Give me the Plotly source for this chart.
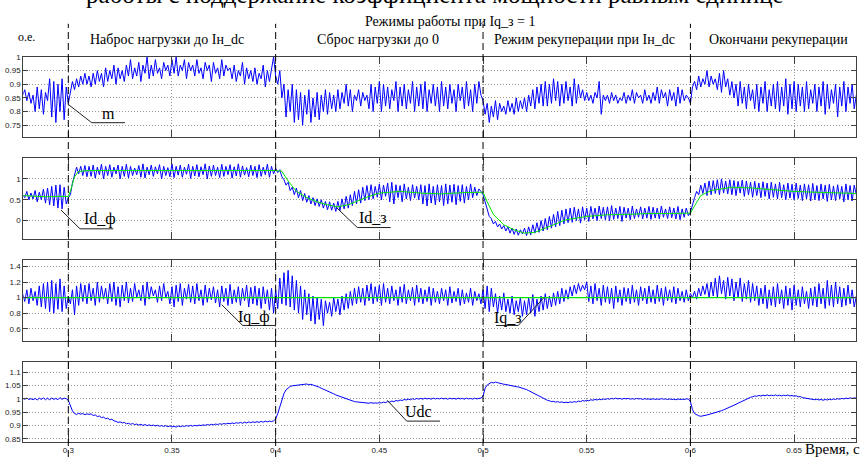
import plotly.graph_objects as go

# ---------------- DATA ----------------
T_START = 0.278
T_STEP = 0.001

m_vals = [
    0.86, 0.88, 0.84, 0.87, 0.83, 0.86, 0.80, 0.89, 0.81, 0.88, 0.79, 0.87,
    0.84, 0.92, 0.78, 0.91, 0.76, 0.90, 0.80, 0.92, 0.77, 0.89,
    0.83, 0.87, 0.91, 0.88, 0.92, 0.89, 0.93, 0.90, 0.94, 0.90,
    0.93, 0.89, 0.94, 0.90, 0.95, 0.91, 0.94, 0.89, 0.96, 0.91,
    0.95, 0.92, 0.97, 0.90, 0.96, 0.92, 0.95, 0.91, 0.97, 0.93,
    0.99, 0.92, 0.96, 0.93, 0.98, 0.91, 0.97, 0.94, 1.00, 0.92,
    0.97, 0.93, 0.99, 0.94, 0.96, 0.92, 0.98, 0.95, 0.97, 0.93,
    0.99, 0.94, 1.00, 0.93, 0.97, 0.95, 0.99, 0.92, 0.98, 0.95,
    0.97, 0.93, 0.99, 0.94, 0.96, 0.92, 0.98, 0.95, 0.97, 0.91,
    0.98, 0.94, 0.96, 0.92, 0.99, 0.93, 0.97, 0.95, 0.96, 0.92,
    0.97, 0.91, 0.95, 0.93, 0.98, 0.90, 0.96, 0.92, 0.95, 0.91,
    0.96, 0.90, 0.94, 0.92, 0.97, 0.89, 0.95, 0.91, 0.96, 1.00,
    0.93, 0.90, 0.95, 0.85, 0.90, 0.78, 0.88, 0.80, 0.90, 0.76,
    0.88, 0.77, 0.87, 0.75, 0.86, 0.79, 0.88, 0.76, 0.85, 0.78,
    0.87, 0.77, 0.86, 0.80, 0.88, 0.79, 0.87, 0.81, 0.86, 0.80,
    0.88, 0.81, 0.87, 0.83, 0.90, 0.82, 0.88, 0.80, 0.86, 0.84,
    0.88, 0.82, 0.87, 0.84, 0.86, 0.81, 0.90, 0.80, 0.89, 0.83,
    0.91, 0.80, 0.90, 0.82, 0.89, 0.81, 0.88, 0.84, 0.91, 0.80,
    0.89, 0.82, 0.90, 0.81, 0.88, 0.83, 0.91, 0.80, 0.89, 0.82,
    0.90, 0.81, 0.91, 0.80, 0.88, 0.83, 0.90, 0.82, 0.89, 0.80,
    0.91, 0.82, 0.89, 0.81, 0.90, 0.83, 0.88, 0.80, 0.90, 0.84,
    0.89, 0.81, 0.91, 0.82, 0.88, 0.80, 0.90, 0.83, 0.91, 0.86,
    0.84, 0.79, 0.83, 0.76, 0.82, 0.78, 0.84, 0.77, 0.83, 0.80,
    0.82, 0.79, 0.84, 0.80, 0.83, 0.79, 0.85, 0.80, 0.84, 0.81,
    0.85, 0.80, 0.86, 0.82, 0.88, 0.81, 0.89, 0.83, 0.90, 0.82,
    0.91, 0.82, 0.90, 0.83, 0.92, 0.84, 0.91, 0.82, 0.90, 0.83,
    0.91, 0.84, 0.89, 0.82, 0.92, 0.83, 0.90, 0.85, 0.88, 0.84,
    0.87, 0.84, 0.86, 0.83, 0.87, 0.85, 0.91, 0.79, 0.86, 0.84,
    0.86, 0.83, 0.87, 0.84, 0.86, 0.83, 0.85, 0.84, 0.87, 0.83,
    0.86, 0.84, 0.88, 0.83, 0.87, 0.85, 0.86, 0.83, 0.88, 0.84,
    0.86, 0.83, 0.87, 0.84, 0.89, 0.83, 0.88, 0.85, 0.87, 0.82,
    0.88, 0.84, 0.87, 0.82, 0.89, 0.83, 0.88, 0.84, 0.86, 0.85,
    0.83, 0.89, 0.91, 0.88, 0.93, 0.89, 0.92, 0.90, 0.95, 0.89,
    0.93, 0.90, 0.92, 0.88, 0.94, 0.87, 0.95, 0.89, 0.92, 0.86,
    0.91, 0.85, 0.90, 0.82, 0.91, 0.83, 0.89, 0.81, 0.90, 0.84,
    0.88, 0.81, 0.90, 0.80, 0.89, 0.83, 0.91, 0.80, 0.88, 0.82,
    0.90, 0.81, 0.91, 0.80, 0.89, 0.82, 0.92, 0.79, 0.90, 0.81,
    0.91, 0.80, 0.90, 0.82, 0.89, 0.80, 0.91, 0.81, 0.88, 0.83,
    0.90, 0.80, 0.89, 0.82, 0.91, 0.79, 0.90, 0.81, 0.88, 0.83,
    0.90, 0.78, 0.89, 0.82, 0.91, 0.80, 0.89, 0.83, 0.90, 0.81, 0.86,
]

id_vals = [
    0.62, 0.55, 0.70, 0.50, 0.66, 0.52, 0.72, 0.45, 0.68, 0.50, 0.75, 0.42,
    0.78, 0.38, 0.82, 0.35, 0.85, 0.30, 0.86, 0.28, 0.80, 0.40,
    0.55, 0.62, 0.90, 1.10, 1.28, 1.12, 1.30, 1.08, 1.32, 1.05,
    1.30, 1.06, 1.33, 1.02, 1.28, 1.10, 1.35, 1.00, 1.30, 1.08,
    1.34, 1.04, 1.28, 1.12, 1.33, 1.00, 1.30, 1.06, 1.35, 1.02,
    1.30, 1.08, 1.26, 1.10, 1.32, 1.04, 1.36, 1.02, 1.28, 1.10,
    1.33, 1.06, 1.29, 1.12, 1.34, 1.00, 1.30, 1.08, 1.27, 1.05,
    1.36, 1.03, 1.30, 1.09, 1.33, 1.04, 1.28, 1.11, 1.35, 1.01,
    1.30, 1.07, 1.34, 1.05, 1.29, 1.10, 1.36, 1.00, 1.31, 1.06,
    1.33, 1.08, 1.28, 1.03, 1.35, 1.06, 1.30, 1.10, 1.34, 1.02,
    1.29, 1.07, 1.36, 1.04, 1.31, 1.09, 1.27, 1.05, 1.33, 1.08,
    1.30, 1.03, 1.34, 1.06, 1.28, 1.10, 1.35, 1.04, 1.30, 1.12,
    1.25, 1.15, 1.22, 1.05, 0.98, 0.85, 0.92, 0.72, 0.80, 0.62,
    0.78, 0.55, 0.72, 0.48, 0.65, 0.44, 0.60, 0.40, 0.55, 0.36,
    0.52, 0.34, 0.50, 0.30, 0.46, 0.26, 0.45, 0.25, 0.42, 0.22,
    0.46, 0.24, 0.52, 0.28, 0.58, 0.30, 0.62, 0.36, 0.70, 0.40,
    0.74, 0.42, 0.80, 0.48, 0.84, 0.50, 0.86, 0.52, 0.82, 0.56,
    0.88, 0.50, 0.85, 0.58, 0.90, 0.45, 0.92, 0.40, 0.86, 0.55,
    0.84, 0.45, 0.88, 0.52, 0.80, 0.48, 0.86, 0.54, 0.82, 0.50,
    0.86, 0.40, 0.84, 0.35, 0.88, 0.42, 0.82, 0.38, 0.86, 0.45,
    0.84, 0.36, 0.88, 0.40, 0.85, 0.44, 0.87, 0.38, 0.84, 0.46,
    0.86, 0.42, 0.82, 0.50, 0.88, 0.55, 0.80, 0.60, 0.76, 0.70,
    0.62, 0.45, 0.30, 0.10, 0.05, -0.08, -0.02, -0.15, -0.08, -0.20,
    -0.12, -0.25, -0.15, -0.30, -0.18, -0.33, -0.20, -0.35, -0.22, -0.32,
    -0.18, -0.36, -0.15, -0.34, -0.10, -0.30, -0.05, -0.28, 0.00, -0.25,
    0.05, -0.22, 0.10, -0.18, 0.15, -0.15, 0.22, -0.12, 0.25, -0.08,
    0.28, -0.05, 0.30, -0.04, 0.32, 0.00, 0.28, -0.06, 0.33, 0.02,
    0.30, -0.02, 0.34, 0.04, 0.30, 0.00, 0.35, 0.05, 0.32, 0.02,
    0.33, 0.00, 0.36, 0.03, 0.30, 0.05, 0.34, -0.02, 0.32, 0.06,
    0.30, 0.02, 0.35, 0.05, 0.28, 0.08, 0.33, 0.04, 0.30, 0.06,
    0.34, 0.03, 0.32, 0.06, 0.30, 0.04, 0.35, 0.08, 0.28, 0.05,
    0.33, 0.07, 0.30, 0.04, 0.34, 0.02, 0.28, 0.08, 0.30, 0.12,
    0.20, 0.40, 0.55, 0.70, 0.62, 0.85, 0.65, 0.90, 0.60, 0.95,
    0.62, 0.96, 0.65, 0.98, 0.62, 1.00, 0.66, 0.95, 0.64, 0.98,
    0.62, 0.96, 0.60, 0.94, 0.66, 0.97, 0.58, 0.95, 0.62, 0.92,
    0.56, 0.94, 0.60, 0.90, 0.55, 0.93, 0.58, 0.90, 0.52, 0.92,
    0.56, 0.88, 0.52, 0.92, 0.55, 0.86, 0.50, 0.90, 0.54, 0.87,
    0.50, 0.90, 0.53, 0.85, 0.48, 0.88, 0.52, 0.86, 0.47, 0.89,
    0.50, 0.84, 0.48, 0.88, 0.52, 0.85, 0.46, 0.87, 0.50, 0.83,
    0.48, 0.86, 0.52, 0.82, 0.45, 0.88, 0.50, 0.84, 0.47, 0.85, 0.62,
]

id_ref_t = [0.278, 0.285, 0.29, 0.295, 0.300, 0.301, 0.303, 0.305, 0.31, 0.40,
            0.403, 0.406, 0.41, 0.415, 0.42, 0.425, 0.43, 0.435, 0.44, 0.445,
            0.45, 0.46, 0.47, 0.48, 0.49, 0.50, 0.502, 0.505, 0.51, 0.515,
            0.52, 0.525, 0.53, 0.535, 0.54, 0.55, 0.56, 0.57, 0.58, 0.59,
            0.60, 0.602, 0.605, 0.61, 0.62, 0.63, 0.64, 0.65, 0.66, 0.67, 0.68]
id_ref_v = [0.60, 0.58, 0.57, 0.58, 0.58, 0.70, 1.05, 1.18, 1.20, 1.20,
            1.18, 0.95, 0.70, 0.55, 0.45, 0.38, 0.33, 0.38, 0.48, 0.58,
            0.66, 0.70, 0.66, 0.64, 0.67, 0.68, 0.45, 0.15, -0.10, -0.22,
            -0.30, -0.28, -0.18, -0.08, 0.02, 0.10, 0.14, 0.15, 0.17, 0.17,
            0.18, 0.35, 0.60, 0.72, 0.80, 0.78, 0.74, 0.70, 0.68, 0.66, 0.65]

iq_vals = [
    1.05, 0.95, 1.10, 0.92, 1.12, 0.96, 1.08, 0.90, 1.15, 0.88, 1.18, 0.86,
    1.20, 0.82, 1.22, 0.80, 1.18, 0.85, 1.24, 0.82, 1.15, 0.86,
    1.02, 0.92, 1.10, 0.78, 1.15, 0.90, 1.18, 0.95, 1.16, 0.92,
    1.18, 0.96, 1.12, 0.90, 1.20, 0.94, 1.15, 0.98, 1.12, 0.92,
    1.18, 0.95, 1.20, 0.90, 1.14, 0.88, 1.16, 0.96, 1.20, 0.93,
    1.12, 0.95, 1.18, 1.00, 1.10, 0.96, 1.16, 0.90, 1.20, 0.98,
    1.14, 1.02, 1.10, 0.94, 1.15, 0.96, 1.18, 1.00, 1.08, 0.92,
    1.14, 0.88, 1.16, 0.95, 1.18, 0.90, 1.12, 0.98, 1.17, 0.94,
    1.15, 0.92, 1.18, 0.96, 1.10, 0.90, 1.16, 0.94, 1.12, 0.97,
    1.14, 0.93, 1.10, 0.88, 1.15, 0.95, 1.12, 0.90, 1.17, 0.92,
    1.10, 0.94, 1.14, 0.90, 1.12, 0.96, 1.16, 0.88, 1.13, 0.92,
    1.15, 0.90, 1.12, 0.86, 1.14, 0.92, 1.10, 0.84, 1.12, 0.80,
    1.10, 0.86, 1.25, 0.92, 1.32, 0.90, 1.35, 0.88, 1.28, 0.84,
    1.22, 0.80, 1.15, 0.72, 1.10, 0.78, 1.05, 0.70, 1.02, 0.66,
    1.00, 0.72, 0.98, 0.64, 0.96, 0.80, 0.94, 0.76, 1.00, 0.82,
    0.98, 0.78, 1.02, 0.84, 1.05, 0.86, 1.08, 0.90, 1.12, 0.92,
    1.14, 0.94, 1.12, 0.90, 1.16, 0.96, 1.18, 0.92, 1.14, 0.95,
    1.16, 0.90, 1.18, 0.94, 1.12, 0.92, 1.15, 0.96, 1.10, 0.90,
    1.14, 0.94, 1.17, 0.92, 1.10, 0.96, 1.13, 0.90, 1.16, 0.94,
    1.12, 0.92, 1.10, 0.95, 1.14, 0.90, 1.12, 0.94, 1.08, 0.92,
    1.12, 0.96, 1.10, 0.90, 1.14, 0.93, 1.08, 0.95, 1.12, 0.90,
    1.10, 0.92, 1.06, 0.94, 1.12, 0.90, 1.08, 0.96, 1.05, 0.92,
    1.10, 0.86, 1.15, 0.82, 1.12, 0.88, 1.05, 0.80, 1.02, 0.84,
    1.06, 0.82, 0.98, 0.80, 1.02, 0.78, 0.96, 0.82, 1.00, 0.76,
    0.96, 0.78, 1.00, 0.80, 1.04, 0.76, 0.98, 0.82, 1.02, 0.84,
    1.05, 0.86, 1.02, 0.88, 1.06, 0.90, 1.08, 0.92, 1.12, 0.95,
    1.10, 0.98, 1.14, 1.02, 1.16, 1.05, 1.18, 1.08, 1.16, 1.10,
    1.20, 0.95, 1.15, 0.92, 1.18, 0.96, 1.12, 0.90, 1.16, 0.94,
    1.14, 0.92, 1.12, 0.86, 1.15, 0.94, 1.10, 0.90, 1.13, 0.95,
    1.12, 0.92, 1.16, 0.94, 1.10, 0.90, 1.14, 0.96, 1.12, 0.92,
    1.15, 0.94, 1.10, 0.92, 1.16, 0.95, 1.12, 0.90, 1.14, 0.96,
    1.10, 0.94, 1.14, 0.92, 1.12, 0.96, 1.08, 0.94, 1.10, 0.96,
    1.05, 1.00, 1.08, 0.98, 1.12, 1.02, 1.15, 1.04, 1.18, 1.00,
    1.20, 1.02, 1.25, 1.00, 1.28, 1.05, 1.22, 0.98, 1.26, 1.02,
    1.24, 0.96, 1.20, 1.00, 1.25, 0.95, 1.18, 0.98, 1.22, 0.94,
    1.18, 0.96, 1.15, 0.90, 1.12, 0.92, 1.16, 0.86, 1.10, 0.90,
    1.14, 0.88, 1.18, 0.92, 1.10, 0.86, 1.15, 0.90, 1.12, 0.84,
    1.16, 0.90, 1.10, 0.88, 1.14, 0.92, 1.08, 0.86, 1.12, 0.90,
    1.14, 0.88, 1.18, 0.92, 1.12, 0.86, 1.22, 0.90, 1.16, 0.88,
    1.20, 0.92, 1.14, 0.88, 1.12, 0.90, 1.16, 0.92, 1.10, 0.88, 1.02,
]

iq_ref_t = [0.278, 0.680]
iq_ref_v = [1.0, 1.0]

udc_vals = [
    1.002, 0.999, 1.003, 0.998, 1.001, 0.997, 1.002, 0.996, 1.003, 0.998, 1.004, 0.997,
    1.003, 0.996, 1.004, 0.998, 1.002, 0.997, 1.005, 0.998, 1.003, 1.001,
    0.995, 0.972, 0.955, 0.945, 0.942, 0.946, 0.943, 0.945, 0.941, 0.944,
    0.942, 0.944, 0.938, 0.940, 0.934, 0.936, 0.930, 0.932, 0.926, 0.928,
    0.922, 0.924, 0.918, 0.916, 0.912, 0.914, 0.910, 0.912, 0.907, 0.909,
    0.905, 0.908, 0.904, 0.906, 0.902, 0.905, 0.901, 0.904, 0.900, 0.903,
    0.900, 0.902, 0.899, 0.901, 0.898, 0.900, 0.897, 0.900, 0.896, 0.899,
    0.895, 0.898, 0.894, 0.899, 0.896, 0.899, 0.897, 0.900, 0.898, 0.901,
    0.898, 0.901, 0.899, 0.902, 0.900, 0.903, 0.901, 0.904, 0.902, 0.905,
    0.903, 0.906, 0.904, 0.907, 0.905, 0.908, 0.906, 0.909, 0.907, 0.910,
    0.908, 0.911, 0.909, 0.912, 0.909, 0.913, 0.910, 0.914, 0.911, 0.914,
    0.912, 0.915, 0.912, 0.916, 0.913, 0.917, 0.914, 0.917, 0.915, 0.918,
    0.925, 0.945, 0.972, 1.000, 1.020, 1.034, 1.042, 1.047, 1.049, 1.050,
    1.051, 1.052, 1.053, 1.055, 1.054, 1.056, 1.053, 1.055, 1.052, 1.050,
    1.047, 1.044, 1.040, 1.037, 1.033, 1.030, 1.026, 1.022, 1.019, 1.015,
    1.012, 1.008, 1.005, 1.002, 0.999, 0.997, 0.994, 0.992, 0.990, 0.989,
    0.988, 0.987, 0.986, 0.985, 0.986, 0.984, 0.986, 0.984, 0.985, 0.984,
    0.986, 0.985, 0.988, 0.986, 0.990, 0.988, 0.992, 0.990, 0.994, 0.992,
    0.996, 0.994, 0.998, 0.996, 0.999, 0.997, 1.001, 0.998, 1.002, 0.999,
    1.002, 0.999, 1.003, 1.000, 1.002, 0.999, 1.003, 1.000, 1.002, 1.000,
    1.003, 1.000, 1.002, 0.999, 1.003, 1.000, 1.002, 0.999, 1.003, 1.000,
    1.002, 0.999, 1.003, 1.000, 1.002, 0.999, 1.003, 1.000, 1.002, 1.003,
    1.010, 1.040, 1.052, 1.058, 1.062, 1.060, 1.063, 1.061, 1.058, 1.057,
    1.055, 1.054, 1.052, 1.051, 1.049, 1.048, 1.046, 1.045, 1.043, 1.041,
    1.038, 1.035, 1.031, 1.027, 1.022, 1.018, 1.013, 1.009, 1.005, 1.001,
    0.998, 0.995, 0.993, 0.990, 0.991, 0.988, 0.990, 0.987, 0.989, 0.986,
    0.988, 0.986, 0.989, 0.987, 0.990, 0.988, 0.992, 0.990, 0.994, 0.992,
    0.995, 0.993, 0.997, 0.995, 0.998, 0.996, 0.999, 0.997, 1.000, 0.998,
    1.001, 0.999, 1.002, 1.000, 1.003, 1.000, 1.002, 0.999, 1.002, 1.000,
    1.002, 0.999, 1.001, 0.999, 1.002, 1.000, 1.001, 0.998, 1.001, 0.999,
    1.000, 0.998, 1.001, 0.998, 1.000, 0.998, 1.001, 0.999, 1.000, 0.998,
    1.000, 0.998, 0.999, 0.997, 1.000, 0.998, 0.999, 0.998, 1.000, 1.000,
    0.990, 0.960, 0.945, 0.940, 0.937, 0.935, 0.936, 0.938, 0.940, 0.942,
    0.944, 0.946, 0.948, 0.950, 0.953, 0.956, 0.959, 0.962, 0.966, 0.968,
    0.972, 0.976, 0.980, 0.984, 0.988, 0.992, 0.996, 1.000, 1.003, 1.006,
    1.008, 1.011, 1.010, 1.013, 1.011, 1.014, 1.012, 1.015, 1.012, 1.014,
    1.012, 1.015, 1.012, 1.014, 1.011, 1.014, 1.012, 1.015, 1.011, 1.013,
    1.010, 1.012, 1.008, 1.009, 1.005, 1.004, 1.001, 1.002, 0.999, 1.000,
    0.997, 0.999, 0.996, 0.998, 0.995, 0.998, 0.996, 0.999, 0.997, 1.000,
    0.998, 1.001, 0.999, 1.002, 1.000, 1.003, 1.001, 1.004, 1.002, 1.004, 1.003,
]

t_vals = [round(T_START + i * T_STEP, 3) for i in range(len(m_vals))]

x_ticks = [0.3, 0.35, 0.4, 0.45, 0.5, 0.55, 0.6, 0.65]
y1_ticks = [0.75, 0.8, 0.85, 0.9, 0.95, 1]
y2_ticks = [0, 0.5, 1]
y3_ticks = [0.6, 0.8, 1, 1.2, 1.4]
y4_ticks = [0.85, 0.9, 0.95, 1, 1.05, 1.1]
event_times = [0.3, 0.4, 0.5, 0.6]

title_text = "работы с поддержание коэффициента мощности равным единице"
subtitle_text = "Режимы работы при Iq_з = 1"
section_labels = ["Наброс нагрузки до Iн_dc", "Сброс нагрузки до 0",
                  "Режим рекуперации при Iн_dc", "Окончани рекуперации"]

# ---------------- LAYOUT HELPERS ----------------
W, H = 864, 458
def px(x):
    return x / W
def py(y):
    return 1 - y / H

BLUE = "#0000ff"
GREEN = "#00e600"
SERIF = "Liberation Serif"
SANS = "Liberation Sans"

fig = go.Figure()

fig.add_trace(go.Scatter(x=t_vals, y=m_vals, mode="lines", line=dict(color=BLUE, width=1),
                         xaxis="x", yaxis="y", showlegend=False))
fig.add_trace(go.Scatter(x=t_vals, y=id_vals, mode="lines", line=dict(color=BLUE, width=1),
                         xaxis="x2", yaxis="y2", showlegend=False))
fig.add_trace(go.Scatter(x=id_ref_t, y=id_ref_v, mode="lines", line=dict(color=GREEN, width=1),
                         xaxis="x2", yaxis="y2", showlegend=False))
fig.add_trace(go.Scatter(x=t_vals, y=iq_vals, mode="lines", line=dict(color=BLUE, width=1),
                         xaxis="x3", yaxis="y3", showlegend=False))
fig.add_trace(go.Scatter(x=iq_ref_t, y=iq_ref_v, mode="lines", line=dict(color=GREEN, width=1.2),
                         xaxis="x3", yaxis="y3", showlegend=False))
fig.add_trace(go.Scatter(x=t_vals, y=udc_vals, mode="lines", line=dict(color=BLUE, width=1),
                         xaxis="x4", yaxis="y4", showlegend=False))

x_dom = [px(23.3), px(856.3)]
panels = [  # (top px, bottom px, range, ticks)
    (53.5, 134.7, [0.706, 1.0], y1_ticks),
    (155.7, 238.0, [-0.45, 1.5], y2_ticks),
    (259.0, 341.0, [0.44, 1.48], y3_ticks),
    (362.3, 443.3, [0.837, 1.137], y4_ticks),
]

axis_common = dict(
    showline=True, linecolor="#404040", linewidth=1, mirror="ticks",
    ticks="inside", ticklen=6, tickcolor="#404040",
    showgrid=True, gridcolor="#9a9a9a", griddash="1px,2px", gridwidth=1,
    zeroline=False, tickfont=dict(family=SANS, size=8, color="#222222"),
)

layout = dict(
    width=W, height=H, margin=dict(l=0, r=0, t=0, b=0),
    paper_bgcolor="white", plot_bgcolor="white", showlegend=False,
)
for i, (top, bot, rng, ticks) in enumerate(panels, start=1):
    sfx = "" if i == 1 else str(i)
    layout["xaxis" + sfx] = dict(axis_common, domain=x_dom, range=[0.2783, 0.680],
                                 tickvals=x_ticks, anchor="y" + sfx,
                                 showticklabels=(i == 4), ticklen=7)
    layout["yaxis" + sfx] = dict(axis_common, domain=[py(bot), py(top)], range=rng,
                                 tickvals=ticks, anchor="x" + sfx, ticklen=5)
fig.update_layout(**layout)

# event dashed lines across the whole figure
for et in event_times:
    fig.add_shape(type="line", xref="x4", yref="paper", x0=et, x1=et, y0=0, y1=py(20),
                  line=dict(color="black", width=1, dash="7px,4px"))

# leader lines for series labels (pixel positions)
leaders = [
    ((68.5, 101.7), (91.7, 120.0), (125.0, 120.0)),
    ((61.0, 208.3), (80.0, 227.3), (113.3, 227.3)),
    ((336.7, 206.0), (357.3, 226.0), (390.7, 226.0)),
    ((221.7, 304.0), (242.7, 325.0), (276.0, 325.0)),
    ((544.0, 296.7), (518.3, 325.0), (496.0, 325.0)),
    ((387.3, 400.7), (406.7, 421.7), (440.0, 421.7)),
]
for p0, p1, p2 in leaders:
    fig.add_shape(type="path", xref="paper", yref="paper",
                  path=f"M {px(p0[0])},{py(p0[1])} L {px(p1[0])},{py(p1[1])} L {px(p2[0])},{py(p2[1])}",
                  line=dict(color="#202020", width=1))

series_labels = [("m", 108, 111), ("Id_ф", 100, 217), ("Id_з", 373, 216),
                 ("Iq_ф", 254, 316), ("Iq_з", 508, 317), ("Udc", 418, 412)]
for txt, x, y in series_labels:
    fig.add_annotation(text=txt, x=px(x), y=py(y), xref="paper", yref="paper",
                       showarrow=False, xanchor="center", yanchor="middle",
                       font=dict(family=SERIF, size=16, color="black"))

# headings
fig.add_annotation(text=title_text, x=px(435), y=py(-10), xref="paper", yref="paper",
                   showarrow=False, xanchor="center", yanchor="middle",
                   font=dict(family=SERIF, size=25, color="black"))
fig.add_annotation(text=subtitle_text, x=px(450), y=py(18), xref="paper", yref="paper",
                   showarrow=False, xanchor="center", yanchor="middle",
                   font=dict(family=SERIF, size=14, color="black"))
for txt, cx in zip(section_labels, [167, 378, 584, 778]):
    fig.add_annotation(text=txt, x=px(cx), y=py(36), xref="paper", yref="paper",
                       showarrow=False, xanchor="center", yanchor="middle",
                       font=dict(family=SERIF, size=14, color="black"))
fig.add_annotation(text="о.е.", x=px(26), y=py(33), xref="paper", yref="paper",
                   showarrow=False, xanchor="center", yanchor="middle",
                   font=dict(family=SERIF, size=12, color="black"))
fig.add_annotation(text="Время, с", x=px(862), y=py(450), xref="paper", yref="paper",
                   showarrow=False, xanchor="right", yanchor="middle",
                   font=dict(family=SERIF, size=15, color="black"))

fig.write_html("out.html")
